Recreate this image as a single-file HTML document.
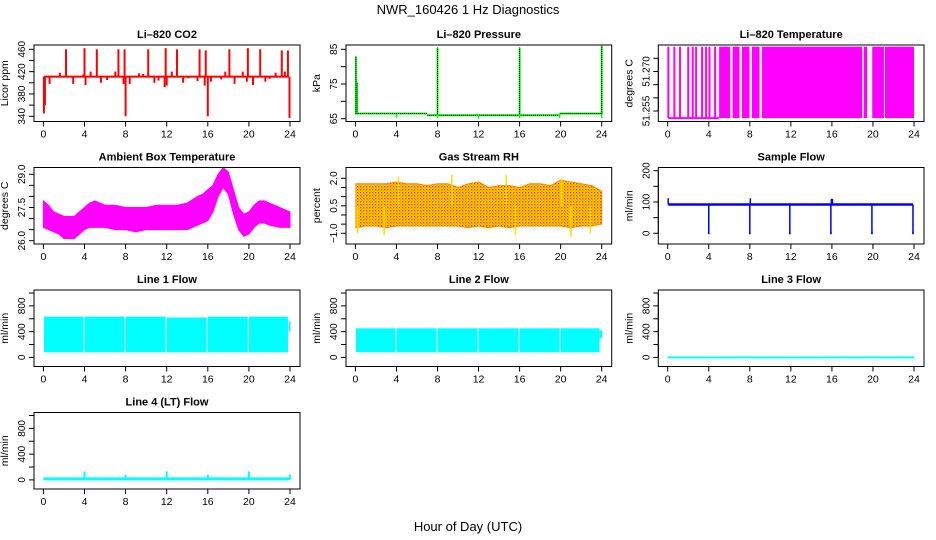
<!DOCTYPE html>
<html><head><meta charset="utf-8">
<style>
html,body{margin:0;padding:0;background:#fff;}
svg{display:block;font-family:"Liberation Sans",Arial,sans-serif;}
</style></head>
<body>
<svg id="chart" width="936" height="540" viewBox="0 0 936 540" xmlns="http://www.w3.org/2000/svg">
<defs>
<pattern id="rhpat" width="3" height="3" patternUnits="userSpaceOnUse">
<rect width="3" height="3" fill="#ffee00"/><rect x="0" y="0" width="1.4" height="1.4" fill="#ff2000"/><rect x="1.5" y="1.5" width="1.2" height="1.2" fill="#ff5000"/>
</pattern>
</defs>
<text x="468" y="14" font-size="13" text-anchor="middle">NWR_160426  1 Hz Diagnostics</text>
<text x="468" y="531" font-size="13" text-anchor="middle">Hour of Day (UTC)</text>
</svg>
<script>
// ---------- data ----------
const xTicks = [0,4,8,12,16,20,24];
// CO2
const co2Base = 411;
const co2SpikeHours = [0.05,0.15,0.6,1.6,2.2,2.9,3.9,4.0,4.1,4.6,5.2,5.6,6.2,7.0,7.3,7.8,7.9,8.0,8.4,9.3,9.7,10.2,10.8,11.2,11.8,11.9,12.0,12.5,13.0,13.6,14.1,15.0,15.2,15.7,15.8,16.0,16.3,17.3,17.7,18.1,18.6,19.4,19.8,19.9,20.4,21.1,21.6,22.0,22.6,23.2,23.5,23.8,23.95];
const co2SpikeValues = [345,360,398,418,460,398,415,462,396,420,460,400,405,420,460,398,460,340,398,417,416,460,400,404,392,462,395,420,460,400,408,403,460,395,458,340,402,406,420,460,398,420,402,462,396,460,402,407,418,458,420,458,337];
// Pressure
const presSegStart = [0.05,7.0,17.5,19.9];
const presSegEnd = [7.0,17.5,19.9,24.0];
const presSegVal = [66.5,66.0,66.0,66.5];
const presSpikeHours = [0.05,0.15,8.0,16.0,24.0];
const presSpikeValues = [83,75.5,85.5,85.5,86];
const presDipHours = [4.0,8.0,12.0,16.0,19.9,24.0];
const presDipValues = [65.3,65.2,65.0,65.2,65.2,65.2];
// Li-820 temperature
const tempLow = 51.2523, tempHigh = 51.2794;
const tempLineHours = [0.06,0.65,1.2,2.0,2.44,2.77,3.35,3.74,4.07,4.62,19.21,19.34];
const tempFillStart = [5.01,6.32,7.23,8.2,9.18,19.93,21.17];
const tempFillEnd = [6.09,7.0,7.97,8.95,18.95,21.07,24.0];
// Ambient box temperature envelope
const ambHours = [0,0.5,1,1.5,2,2.5,3,3.5,4,4.5,5,5.5,6,7,8,9,10,11,12,13,14,15,15.5,16,16.5,17,17.5,18,18.5,19,19.5,20,20.5,21,21.5,22,23,24];
const ambLow  = [26.6,26.5,26.4,26.3,26.1,26.1,26.1,26.3,26.5,26.6,26.6,26.6,26.6,26.5,26.5,26.4,26.5,26.5,26.5,26.5,26.5,26.7,26.8,26.9,27.3,28.0,28.4,28.1,27.2,26.5,26.2,26.3,26.6,26.8,26.8,26.7,26.6,26.6];
const ambHigh = [27.8,27.6,27.3,27.2,27.1,27.1,27.1,27.3,27.5,27.7,27.8,27.7,27.6,27.6,27.5,27.5,27.5,27.6,27.6,27.6,27.7,28.0,28.1,28.3,28.5,29.0,29.3,29.1,28.3,27.5,27.2,27.3,27.6,27.8,27.8,27.7,27.5,27.3];
// Gas stream RH envelope
const rhHours = [0.05,1,2,3,4,5,6,7,8,9,10,11,12,13,14,15,16,17,18,19,20,21,22,23,24];
const rhLow  = [-0.7,-0.6,-0.6,-0.7,-0.6,-0.6,-0.6,-0.6,-0.6,-0.6,-0.6,-0.7,-0.6,-0.7,-0.6,-0.7,-0.6,-0.6,-0.6,-0.6,-0.6,-0.7,-0.6,-0.6,-0.5];
const rhHigh = [1.7,1.7,1.7,1.7,1.8,1.7,1.7,1.6,1.7,1.7,1.5,1.7,1.8,1.5,1.6,1.6,1.5,1.7,1.7,1.6,1.9,1.8,1.7,1.6,1.3];
const rhSpikeHours = [0.2,2.8,4.2,9.4,14.7,15.6,20.1,21.0,22.9];
const rhSpikeValues = [-1.0,-1.1,2.1,2.2,2.2,-1.1,2.0,-1.2,-1.0];
// Sample flow
const sampBase = 92;
const sampDropHours = [4.0,8.0,11.9,15.9,19.9,23.9];
const sampDropValues = [0,0,0,0,0,0];
const sampUpHours = [0.05,8.05,15.95,16.05];
const sampUpValues = [112,112,110,110];
// Line flows
const flowStart = [0.05,4.0,8.0,12.0,16.0,20.0];
const flowEnd   = [3.9,7.9,11.9,15.9,19.9,23.8];
const line1Low  = [80,80,80,80,80,80];
const line1High = [633,633,633,620,633,633];
const line2Low  = [80,80,80,80,80,80];
const line2High = [452,452,452,452,452,452];
const line3Value = 0;
const line4Base = 15;
const line4SpikeHours = [4.0,8.0,12.0,16.0,20.0,24.0];
const line4SpikeValues = [130,80,130,80,130,80];

// ---------- layout ----------
const svg = document.getElementById('chart');
const NS = 'http://www.w3.org/2000/svg';
const colX = [[34,300],[346,611.7],[658.3,924]];
const rowY = [45,167.5,290,412.5];
const BH = 76.5;
function mk(tag, attrs, parent){
  const e = document.createElementNS(NS, tag);
  for (const k in attrs) e.setAttribute(k, attrs[k]);
  (parent||svg).appendChild(e);
  return e;
}
function panel(name, col, row, title, ylab, v0, p0, v1, p1, yticks, ylabels){
  const [L,R] = colX[col], T = rowY[row], B = T + BH;
  const g = mk('g', {});
  
  
  const x = h => (L + 9.4) + h / 24 * ((R - 10) - (L + 9.4));
  const y = v => T + p0 + (v - v0) / (v1 - v0) * (p1 - p0);
  const plot = mk('g', {}, g);
  
  
  const t = mk('text', {x:(L+R)/2, y:T-7, 'font-size':11, 'font-weight':'bold', 'text-anchor':'middle'}, g);
  t.textContent = title;
  
  
  const xa = mk('g', {}, g);
  
  
  mk('line', {x1:x(0), x2:x(24), y1:B, y2:B, stroke:'#000'}, xa);
  xTicks.forEach(h => {
    mk('line', {x1:x(h), x2:x(h), y1:B, y2:B+5, stroke:'#000'}, xa);
    const lt = mk('text', {x:x(h), y:B+16, 'font-size':10.5, 'text-anchor':'middle'}, xa);
    lt.textContent = h;
    
    
  });
  const ya = mk('g', {}, g);
  
  
  mk('line', {x1:L, x2:L, y1:y(yticks[0]), y2:y(yticks[yticks.length-1]), stroke:'#000'}, ya);
  yticks.forEach((v,i) => {
    mk('line', {x1:L-5, x2:L, y1:y(v), y2:y(v), stroke:'#000'}, ya);
    if (ylabels[i]) {
      const lt = mk('text', {x:0, y:0, 'font-size':10, 'text-anchor':'middle', transform:`translate(${L-9},${y(v)}) rotate(-90)`}, ya);
      lt.textContent = ylabels[i];
      
      
    }
  });
  const yl = mk('text', {x:0, y:0, 'font-size':10.5, 'text-anchor':'middle', transform:`translate(${L-26},${T+BH/2}) rotate(-90)`}, g);
  yl.textContent = ylab;
  
  
  const box = mk('rect', {x:L, y:T, width:R-L, height:BH, fill:'none', stroke:'#000'}, g);
  
  
  return {x, y, g:plot};
}
function vline(p, h, v0, v1, color, w, name){
  const e = mk('line', {x1:p.x(h), x2:p.x(h), y1:p.y(v0), y2:p.y(v1), stroke:color, 'stroke-width':w}, p.g);
  
  
  return e;
}
function band(p, hs, lo, hi, fill, name){
  let d = hs.map((h,i)=>(i?'L':'M')+p.x(h)+','+p.y(hi[i])).join('');
  for (let i=hs.length-1;i>=0;i--) d += 'L'+p.x(hs[i])+','+p.y(lo[i]);
  const e = mk('path', {d:d+'Z', fill:fill, stroke:fill==='url(#rhpat)'?'#ff8000':fill, 'stroke-width':1}, p.g);
  
  
}
function rectH(p, h0, h1, v0, v1, fill, name){
  const e = mk('rect', {x:p.x(h0), y:p.y(v1), width:p.x(h1)-p.x(h0), height:p.y(v0)-p.y(v1), fill:fill}, p.g);
  
  
}

// CO2
let p = panel('co2', 0, 0, 'Li\u2013820 CO2', 'Licor ppm', 340, 71.3, 460, 4.3,
  [340,360,380,400,420,440,460], ['340','','380','','420','','460']);
rectH(p, 0.05, 23.85, co2Base-1.8, co2Base+1.8, '#ff0000', 'co2-baseline');
co2SpikeHours.forEach((h,i)=>vline(p, h, co2Base, co2SpikeValues[i], '#ff0000', 2, 'co2-spike'));

// Pressure
p = panel('pressure', 1, 0, 'Li\u2013820 Pressure', 'kPa', 65, 73.7, 85, 4.3, [65,70,75,80,85], ['65','','75','','85']);
presSegStart.forEach((s,i)=>{
  const e = mk('line', {x1:p.x(s), x2:p.x(presSegEnd[i]), y1:p.y(presSegVal[i]), y2:p.y(presSegVal[i]), stroke:'#00ff00', 'stroke-width':2}, p.g);
  
  
  const d = mk('line', {x1:p.x(s), x2:p.x(presSegEnd[i]), y1:p.y(presSegVal[i]), y2:p.y(presSegVal[i]), stroke:'#000', 'stroke-width':1, 'stroke-dasharray':'1,1'}, p.g);
  
  
});
presSpikeHours.forEach((h,i)=>{
  vline(p, h, 66.3, presSpikeValues[i], '#00ff00', 2, 'pressure-spike');
  const d = vline(p, h, 66.3, presSpikeValues[i], '#000', 1, 'pressure-spike-points');
  d.setAttribute('stroke-dasharray','1,1');
});
presDipHours.forEach((h,i)=>vline(p, h, 66.3, presDipValues[i], '#00ff00', 1.5, 'pressure-dip'));

// Li-820 temperature
p = panel('li820-temp', 2, 0, 'Li\u2013820 Temperature', 'degrees C', 51.255, 66, 51.275, 13.3,
  [51.255,51.26,51.265,51.27,51.275], ['51.255','','','51.270','']);
{
  const e = mk('line', {x1:p.x(0.05), x2:p.x(5.0), y1:p.y(tempLow), y2:p.y(tempLow), stroke:'#ff00ff', 'stroke-width':2}, p.g);
  
  
}
tempLineHours.forEach(h=>vline(p, h, tempLow, tempHigh, '#ff00ff', 2, 'temp-switch-line'));
tempFillStart.forEach((s,i)=>rectH(p, s, tempFillEnd[i], tempLow, tempHigh, '#ff00ff', 'temp-dense-block'));

// Ambient
p = panel('ambient-temp', 0, 1, 'Ambient Box Temperature', 'degrees C', 26, 73.2, 29, 6.8,
  [26,26.5,27,27.5,28,28.5,29], ['26.0','','','27.5','','','29.0']);
band(p, ambHours, ambLow, ambHigh, '#ff00ff', 'ambient-temp-band');

// RH
p = panel('gas-rh', 1, 1, 'Gas Stream RH', 'percent', -1, 65.8, 2, 10.8,
  [-1,-0.5,0,0.5,1,1.5,2], ['\u22121.0','','','0.5','','','2.0']);
band(p, rhHours, rhLow, rhHigh, 'url(#rhpat)', 'gas-rh-band');
rhSpikeHours.forEach((h,i)=>vline(p, h, 0.5, rhSpikeValues[i], '#ffdd00', 1.5, 'gas-rh-spike'));

// Sample flow
p = panel('sample-flow', 2, 1, 'Sample Flow', 'ml/min', 0, 65.8, 200, 3.2, [0,50,100,150,200], ['0','','100','','200']);
rectH(p, 0.05, 23.9, sampBase-4, sampBase+4, '#0000ff', 'sample-flow-baseline');
sampDropHours.forEach((h,i)=>{
  vline(p, h, sampBase, sampDropValues[i], '#0000ff', 1.5, 'sample-flow-drop');
  rectH(p, h-0.08, h+0.08, sampDropValues[i]-3, sampDropValues[i]+5, '#0000ff', 'sample-flow-drop-point');
});
sampUpHours.forEach((h,i)=>vline(p, h, sampBase, sampUpValues[i], '#0000ff', 1.5, 'sample-flow-spike'));

// Line flows
const flowTicks = [0,200,400,600,800,1000], flowLabels = ['0','','400','','800',''];
p = panel('line1-flow', 0, 2, 'Line 1 Flow', 'ml/min', 0, 67.4, 800, 15.9, flowTicks, flowLabels);
flowStart.forEach((s,i)=>rectH(p, s, flowEnd[i], line1Low[i], line1High[i], '#00ffff', 'line1-flow-block'));
rectH(p, 23.9, 24.05, 400, 560, '#00ffff', 'line1-flow-end');
p = panel('line2-flow', 1, 2, 'Line 2 Flow', 'ml/min', 0, 67.4, 800, 15.9, flowTicks, flowLabels);
flowStart.forEach((s,i)=>rectH(p, s, flowEnd[i], line2Low[i], line2High[i], '#00ffff', 'line2-flow-block'));
rectH(p, 23.8, 24.05, 300, 420, '#00ffff', 'line2-flow-end');
p = panel('line3-flow', 2, 2, 'Line 3 Flow', 'ml/min', 0, 67.4, 800, 15.9, flowTicks, flowLabels);
{
  const e = mk('line', {x1:p.x(0), x2:p.x(24), y1:p.y(line3Value), y2:p.y(line3Value), stroke:'#00ffff', 'stroke-width':2}, p.g);
  
  
}
p = panel('line4-flow', 0, 3, 'Line 4 (LT) Flow', 'ml/min', 0, 67.4, 800, 15.9, flowTicks, flowLabels);
{
  const e = mk('line', {x1:p.x(0), x2:p.x(24), y1:p.y(line4Base), y2:p.y(line4Base), stroke:'#00ffff', 'stroke-width':3}, p.g);
  
  
}
line4SpikeHours.forEach((h,i)=>vline(p, h, line4Base, line4SpikeValues[i], '#00ffff', 2, 'line4-flow-spike'));
</script>
</body></html>
